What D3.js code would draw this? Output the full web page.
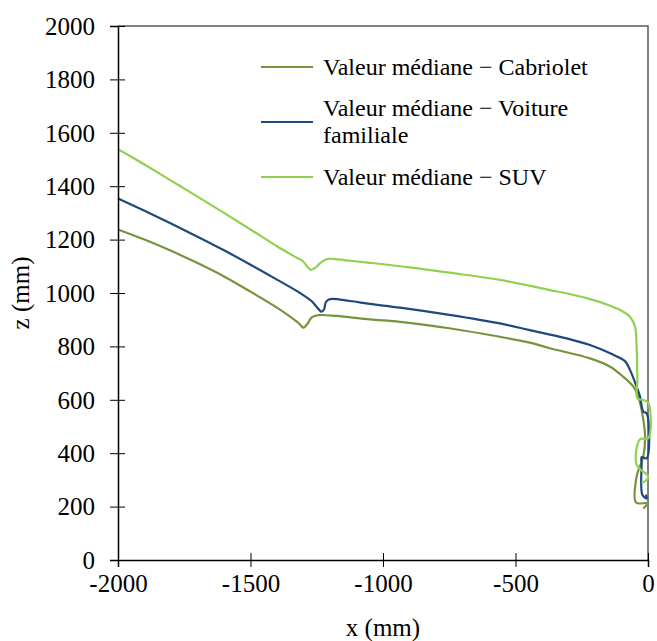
<!DOCTYPE html>
<html>
<head>
<meta charset="utf-8">
<script src="https://cdn.jsdelivr.net/npm/d3@7"></script>
<style>
  body { margin: 0; background: #fff; }
  svg, svg text { font-family: "Liberation Serif", "Tinos", "DejaVu Serif", serif; }
</style>
</head>
<body>
<svg id="chart" width="657" height="641"></svg>
<script>
// Median profiles, x (mm) / z (mm)
const cabrioletX = [-2000, -1900, -1800, -1700, -1600, -1500, -1400, -1339, -1315, -1301, -1285, -1269, -1244, -1175, -1049, -936, -750, -559, -450, -370, -219, -143, -93, -55, -37, -24, -11, -18, -43, -45, -3, -18];
const cabrioletZ = [1238, 1200, 1158, 1112, 1062, 1005, 945, 903, 884, 870, 885, 909, 917, 914, 901, 892, 868, 836, 815, 793, 755, 724, 686, 649, 612, 562, 462, 387, 312, 215, 212, 193];

const familialeX = [-2000, -1900, -1800, -1700, -1600, -1500, -1400, -1313, -1270, -1250, -1232, -1222, -1215, -1200, -1125, -1049, -936, -750, -559, -450, -307, -219, -143, -87, -68, -43, -30, -18, -5, -5, -24, -24, -21, -5, -8];
const familialeZ = [1354, 1308, 1260, 1211, 1160, 1106, 1050, 1000, 970, 948, 930, 940, 967, 977, 970, 959, 945, 918, 886, 862, 830, 805, 774, 745, 712, 649, 612, 556, 549, 381, 385, 362, 243, 231, 245];

const suvX = [-2000, -1900, -1800, -1700, -1600, -1500, -1400, -1340, -1301, -1285, -1272, -1255, -1238, -1220, -1206, -1180, -1125, -1049, -900, -750, -559, -370, -300, -219, -150, -93, -68, -49, -43, -40, -40, -18, 1, 1, -30, -43, 1, -24];
const suvZ = [1539, 1481, 1421, 1361, 1300, 1238, 1175, 1140, 1118, 1098, 1087, 1095, 1111, 1124, 1128, 1127, 1121, 1113, 1096, 1076, 1049, 1011, 997, 977, 955, 930, 911, 874, 799, 674, 605, 599, 589, 456, 452, 356, 312, 287];

const seriesColors = ["#77933C", "#1F497D", "#92D050"];

const xTicks = [-2000, -1500, -1000, -500, 0];
const yTicks = [0, 200, 400, 600, 800, 1000, 1200, 1400, 1600, 1800, 2000];

const FONT = "Liberation Serif, Tinos, DejaVu Serif, serif";

const svg = d3.select("#chart");
const plotLeft = 118, plotRight = 648, plotTop = 26, plotBottom = 560;

const x = d3.scaleLinear().domain([-2000, 0]).range([plotLeft, plotRight]);
const y = d3.scaleLinear().domain([0, 2000]).range([plotBottom, plotTop]);

// frame (top and right edges)
svg.append("path")
  .attr("d", `M${plotLeft},${plotTop}H${plotRight}V${plotBottom}`)
  .attr("fill", "none")
  .attr("stroke", "#595959")
  .attr("stroke-width", 1.5);

// curves
const zip = (xs, zs) => xs.map((d, i) => [d, zs[i]]);
const series = [
  zip(cabrioletX, cabrioletZ),
  zip(familialeX, familialeZ),
  zip(suvX, suvZ)
];

const line = d3.line()
  .x((d) => x(d[0]))
  .y((d) => y(d[1]))
  .curve(d3.curveCatmullRom.alpha(0.5));

svg.selectAll("path.series")
  .data(series)
  .enter()
  .append("path")
  .attr("class", "series")
  .attr("d", line)
  .attr("fill", "none")
  .attr("stroke", (d, i) => seriesColors[i])
  .attr("stroke-width", 2.2)
  .attr("stroke-linejoin", "round");

// axes - ticks cross the axis line
const xAxis = svg.append("g")
  .attr("transform", `translate(0,${plotBottom})`)
  .call(d3.axisBottom(x).tickValues(xTicks).tickSize(7).tickFormat((d) => String(d)))
  .attr("font-family", FONT);
xAxis.select(".domain").attr("stroke", "#000").attr("stroke-width", 1.5);
xAxis.selectAll(".tick line").attr("y1", -7).attr("y2", 7).attr("stroke", "#000");
xAxis.selectAll(".tick text")
  .attr("y", 32).attr("dy", null)
  .attr("font-size", 25).attr("fill", "#000");

const yAxis = svg.append("g")
  .attr("transform", `translate(${plotLeft},0)`)
  .call(d3.axisLeft(y).tickValues(yTicks).tickSize(8).tickFormat((d) => String(d)))
  .attr("font-family", FONT);
yAxis.select(".domain").attr("stroke", "#000").attr("stroke-width", 1.5);
yAxis.selectAll(".tick line").attr("x1", 7).attr("x2", -8).attr("stroke", "#000");
yAxis.selectAll(".tick text")
  .attr("x", -23).attr("dy", "0.33em")
  .attr("font-size", 25).attr("fill", "#000");

// axis titles
svg.append("text")
  .attr("x", (plotLeft + plotRight) / 2)
  .attr("y", 636)
  .attr("text-anchor", "middle")
  .attr("font-size", 25)
  .text("x (mm)");

svg.append("text")
  .attr("transform", `translate(29,${(plotTop + plotBottom) / 2}) rotate(-90)`)
  .attr("text-anchor", "middle")
  .attr("font-size", 25)
  .text("z (mm)");

// legend
const legendY = [67, 122, 177];
const legendLines = [["Valeur médiane − Cabriolet"], ["Valeur médiane − Voiture", "familiale"], ["Valeur médiane − SUV"]];
const legendTextY = [75, 116, 185];

const legend = svg.append("g");
legendLines.forEach((lines, i) => {
  legend.append("line")
    .attr("x1", 261).attr("x2", 313)
    .attr("y1", legendY[i]).attr("y2", legendY[i])
    .attr("stroke", seriesColors[i])
    .attr("stroke-width", 2.2);
  const t = legend.append("text")
    .attr("x", 323)
    .attr("y", legendTextY[i])
    .attr("font-size", 24);
  lines.forEach((s, j) => {
    t.append("tspan").attr("x", 323).attr("dy", j === 0 ? 0 : 27).text(s);
  });
});
</script>
</body>
</html>
